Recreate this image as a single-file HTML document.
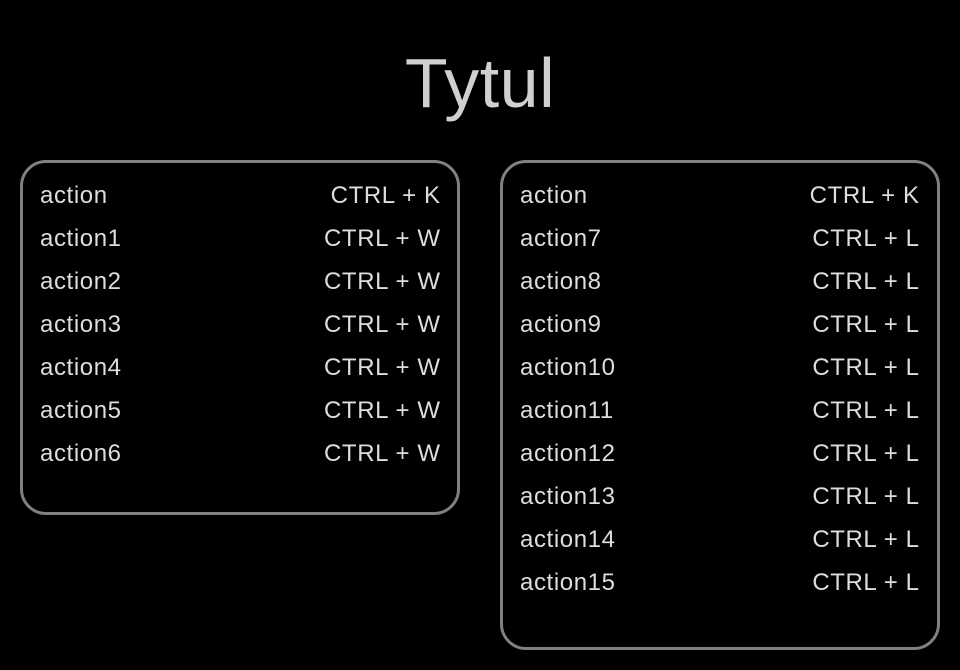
<!DOCTYPE html>
<html><head><style>
body{margin:0;width:960px;height:670px;background:#000;overflow:hidden;font-family:"Liberation Sans",sans-serif;color:#ddd;position:relative}
.t{position:absolute;left:0;width:960px;top:43px;text-align:center;font-size:70px;line-height:80px;color:#d0d0d0;letter-spacing:0.5px}
.b{position:absolute;border:3px solid #808080;border-radius:26px;box-sizing:border-box}
.r{position:absolute;font-size:24px;line-height:26px;width:400px;letter-spacing:0.6px}
.r span{float:right;margin-right:-0.6px}
</style></head><body>
<div class="t">Tytul</div>
<div class="b" style="left:20px;top:160px;width:440px;height:355px"></div>
<div class="b" style="left:500px;top:160px;width:440px;height:490px"></div>
<div class="r" style="left:40px;top:183px">action<span>CTRL + K</span></div>
<div class="r" style="left:40px;top:226px">action1<span>CTRL + W</span></div>
<div class="r" style="left:40px;top:269px">action2<span>CTRL + W</span></div>
<div class="r" style="left:40px;top:312px">action3<span>CTRL + W</span></div>
<div class="r" style="left:40px;top:355px">action4<span>CTRL + W</span></div>
<div class="r" style="left:40px;top:398px">action5<span>CTRL + W</span></div>
<div class="r" style="left:40px;top:441px">action6<span>CTRL + W</span></div>
<div class="r" style="left:520px;top:183px;width:399px">action<span>CTRL + K</span></div>
<div class="r" style="left:520px;top:226px;width:399px">action7<span>CTRL + L</span></div>
<div class="r" style="left:520px;top:269px;width:399px">action8<span>CTRL + L</span></div>
<div class="r" style="left:520px;top:312px;width:399px">action9<span>CTRL + L</span></div>
<div class="r" style="left:520px;top:355px;width:399px">action10<span>CTRL + L</span></div>
<div class="r" style="left:520px;top:398px;width:399px">action11<span>CTRL + L</span></div>
<div class="r" style="left:520px;top:441px;width:399px">action12<span>CTRL + L</span></div>
<div class="r" style="left:520px;top:484px;width:399px">action13<span>CTRL + L</span></div>
<div class="r" style="left:520px;top:527px;width:399px">action14<span>CTRL + L</span></div>
<div class="r" style="left:520px;top:570px;width:399px">action15<span>CTRL + L</span></div>
</body></html>
